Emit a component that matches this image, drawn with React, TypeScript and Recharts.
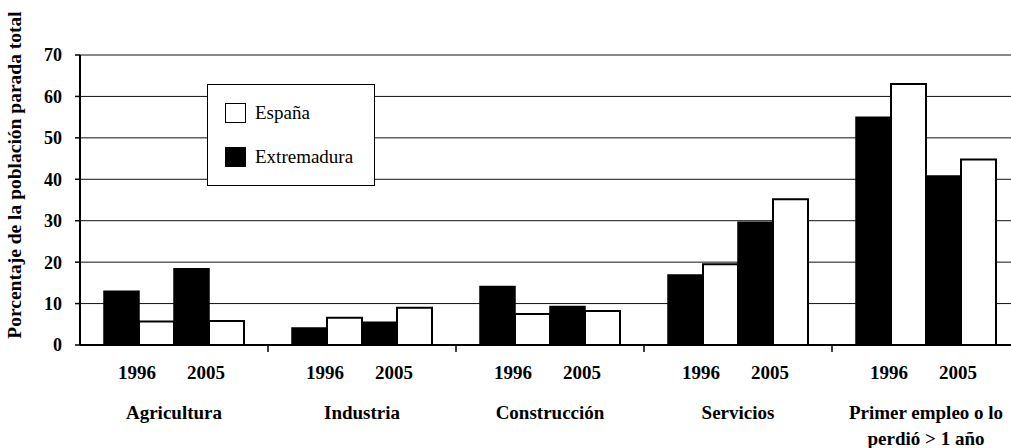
import React from 'react';
import { BarChart, Bar, XAxis, YAxis, CartesianGrid, Legend } from 'recharts';

// categorías y series
const sectors = ['Agricultura', 'Industria', 'Construcción', 'Servicios', 'Primer empleo o lo|perdió > 1 año'];
const years = ['1996', '2005'];
const extremadura1996 = [13.0, 4.1, 14.1, 16.9, 55.0];
const espana1996 = [5.7, 6.6, 7.5, 19.5, 63.0];
const extremadura2005 = [18.4, 5.5, 9.3, 29.6, 40.8];
const espana2005 = [5.8, 9.0, 8.2, 35.2, 44.8];
const yTicks = [0, 10, 20, 30, 40, 50, 60, 70];
const legendItems = [
  { name: 'España', fill: '#fff' },
  { name: 'Extremadura', fill: '#000' },
];
const yTitle = 'Porcentaje de la población parada total';

const data = sectors.map((s, i) => ({
  sector: s,
  ext96: extremadura1996[i],
  esp96: espana1996[i],
  ext05: extremadura2005[i],
  esp05: espana2005[i],
}));

const FONT = '"Liberation Serif", "Times New Roman", serif';
const W = 1024;
const H = 448;
const LEFT = 80;
const RIGHT = 4;
const BAND = (W - LEFT - RIGHT) / sectors.length;

// etiqueta de eje X: años + nombre del sector + marca de separación
function SectorTick(props: any) {
  const { x, y, payload, index } = props;
  const lines = String(payload.value).split('|');
  return (
    <g fontFamily={FONT} fontWeight="bold" fill="#000">
      {index > 0 && (
        <line x1={x - BAND / 2} x2={x - BAND / 2} y1={y - 8} y2={y - 1} stroke="#000" strokeWidth={1.5} />
      )}
      {years.map((yr, k) => (
        <text key={yr} x={x + (k === 0 ? -37 : 32)} y={y + 26} textAnchor="middle" fontSize={19} fill="#000">
          {yr}
        </text>
      ))}
      {lines.map((l, k) => (
        <text key={k} x={x} y={y + 66 + k * 26} textAnchor="middle" fontSize={19} fill="#000">
          {l}
        </text>
      ))}
    </g>
  );
}

function YTitle() {
  return (
    <text
      transform="translate(21,175) rotate(-90)"
      textAnchor="middle"
      fontFamily={FONT}
      fontWeight="bold"
      fontSize={19.5}
      fill="#000"
    >
      {yTitle}
    </text>
  );
}

function LegendBox() {
  return (
    <div
      style={{
        width: 166,
        height: 100,
        border: '1.5px solid #000',
        background: '#fff',
        fontFamily: FONT,
        fontSize: 19,
        color: '#000',
        position: 'relative',
      }}
    >
      {legendItems.map((it, i) => (
        <div key={it.name} style={{ position: 'absolute', left: 17, top: 17 + i * 44, display: 'flex', alignItems: 'center' }}>
          <span
            style={{
              display: 'inline-block',
              width: 19,
              height: 18,
              border: '1.5px solid #000',
              background: it.fill,
              marginRight: 9,
            }}
          />
          <span>{it.name}</span>
        </div>
      ))}
    </div>
  );
}

export default function App() {
  return (
    <div style={{ position: 'absolute', left: 0, top: 0, width: 1011, height: H, overflow: 'hidden', background: '#fff' }}>
      <BarChart
        width={W}
        height={H}
        data={data}
        margin={{ top: 55, right: RIGHT, left: 0, bottom: 0 }}
        barGap={0}
        barCategoryGap={24}
      >
        <CartesianGrid vertical={false} stroke="#111" strokeWidth={1} />
        <XAxis
          dataKey="sector"
          height={103}
          axisLine={{ stroke: '#000', strokeWidth: 2 }}
          tickLine={false}
          interval={0}
          tick={<SectorTick />}
        />
        <YAxis
          width={LEFT}
          domain={[0, 70]}
          ticks={yTicks}
          interval={0}
          axisLine={{ stroke: '#000', strokeWidth: 2 }}
          tickLine={{ stroke: '#000', strokeWidth: 1.5 }}
          tickSize={5}
          tickMargin={13}
          tick={{ fontFamily: FONT, fontWeight: 'bold', fontSize: 18, fill: '#000' }}
          label={<YTitle />}
        />
        <Legend
          verticalAlign="middle"
          layout="horizontal"
          content={<LegendBox />}
          wrapperStyle={{ left: 207, top: 84, width: 170, height: 104 }}
        />
        <Bar dataKey="ext96" name="Extremadura 1996" fill="#000" stroke="#000" strokeWidth={1.5} isAnimationActive={false} />
        <Bar dataKey="esp96" name="España 1996" fill="#fff" stroke="#000" strokeWidth={2} isAnimationActive={false} />
        <Bar dataKey="ext05" name="Extremadura 2005" fill="#000" stroke="#000" strokeWidth={1.5} isAnimationActive={false} />
        <Bar dataKey="esp05" name="España 2005" fill="#fff" stroke="#000" strokeWidth={2} isAnimationActive={false} />
      </BarChart>
    </div>
  );
}
